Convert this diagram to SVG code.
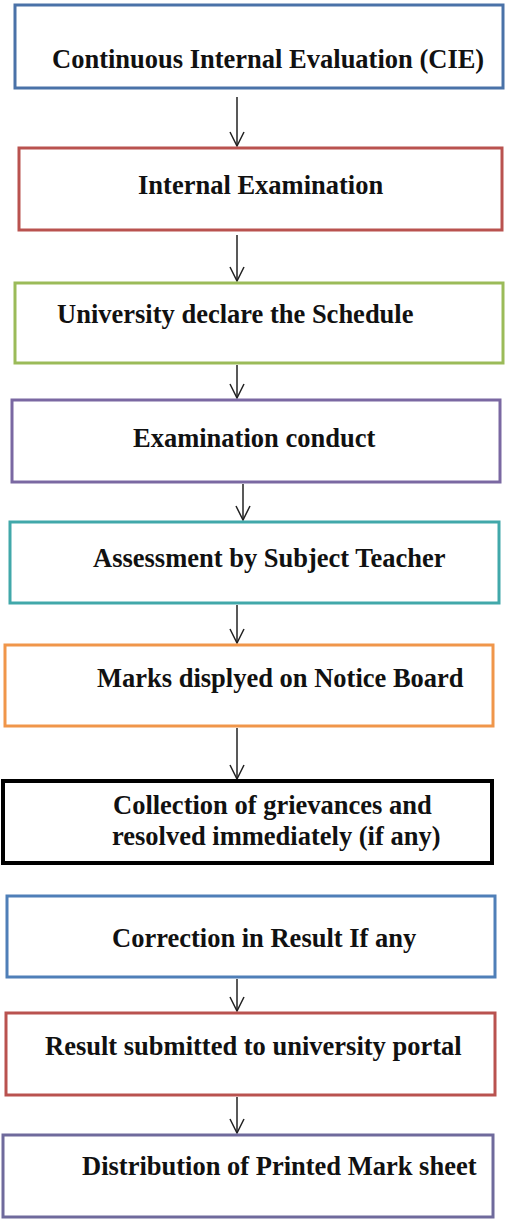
<svg xmlns="http://www.w3.org/2000/svg" width="505" height="1219" viewBox="0 0 505 1219">
<defs>
<marker id="arr" viewBox="0 0 16 16" refX="15" refY="8" markerWidth="16" markerHeight="16" markerUnits="userSpaceOnUse" orient="auto">
<path d="M1,1 L15,8 L1,15" fill="none" stroke="#222" stroke-width="1.5"/>
</marker>
</defs>
<style>
.box{fill:#fff;stroke-width:3}
.t{font-family:"Liberation Serif","Times New Roman",serif;font-weight:bold;font-size:26.5px;fill:#111}
.c{stroke:#222;stroke-width:1.5;fill:none;marker-end:url(#arr)}
</style>
<rect width="505" height="1219" fill="#fff"/>
<g id="connectors">
<line class="c" x1="237" y1="97" x2="237" y2="146"/>
<line class="c" x1="237" y1="235" x2="237" y2="281"/>
<line class="c" x1="237" y1="365" x2="237" y2="398"/>
<line class="c" x1="243" y1="484" x2="243" y2="520"/>
<line class="c" x1="237" y1="605" x2="237" y2="643"/>
<line class="c" x1="237" y1="728" x2="237" y2="779"/>
<line class="c" x1="237" y1="979" x2="237" y2="1011"/>
<line class="c" x1="237" y1="1097" x2="237" y2="1133"/>
</g>
<g id="n1"><rect class="box" x="15" y="5" width="488" height="83" stroke="#4a72a8"/><text class="t" x="52" y="68">Continuous Internal Evaluation (CIE)</text></g>
<g id="n2"><rect class="box" x="19" y="148" width="483" height="82" stroke="#b9524f"/><text class="t" x="138" y="194">Internal Examination</text></g>
<g id="n3"><rect class="box" x="15" y="283" width="488" height="80" stroke="#9bbb59"/><text class="t" x="57" y="323">University declare the Schedule</text></g>
<g id="n4"><rect class="box" x="12" y="400" width="488" height="82" stroke="#7a68a2"/><text class="t" x="133" y="447">Examination conduct</text></g>
<g id="n5"><rect class="box" x="10" y="522" width="489" height="81" stroke="#41a8aa"/><text class="t" x="93" y="567">Assessment by Subject Teacher</text></g>
<g id="n6"><rect class="box" x="5" y="645" width="488" height="81" stroke="#f0964a"/><text class="t" x="97" y="687">Marks displyed on Notice Board</text></g>
<g id="n7"><rect class="box" x="3" y="781" width="489" height="82" stroke="#000" style="stroke-width:4"/><text class="t" x="113" y="814">Collection of grievances and</text><text class="t" x="112" y="845">resolved immediately (if any)</text></g>
<g id="n8"><rect class="box" x="7" y="896" width="488" height="81" stroke="#4f7fb8"/><text class="t" x="112" y="947">Correction in Result If any</text></g>
<g id="n9"><rect class="box" x="6" y="1013" width="489" height="82" stroke="#b9524f"/><text class="t" x="45" y="1055">Result submitted to university portal</text></g>
<g id="n10"><rect class="box" x="3" y="1135" width="490" height="82" stroke="#6f6a9c"/><text class="t" x="82" y="1175">Distribution of Printed Mark sheet</text></g>
</svg>
